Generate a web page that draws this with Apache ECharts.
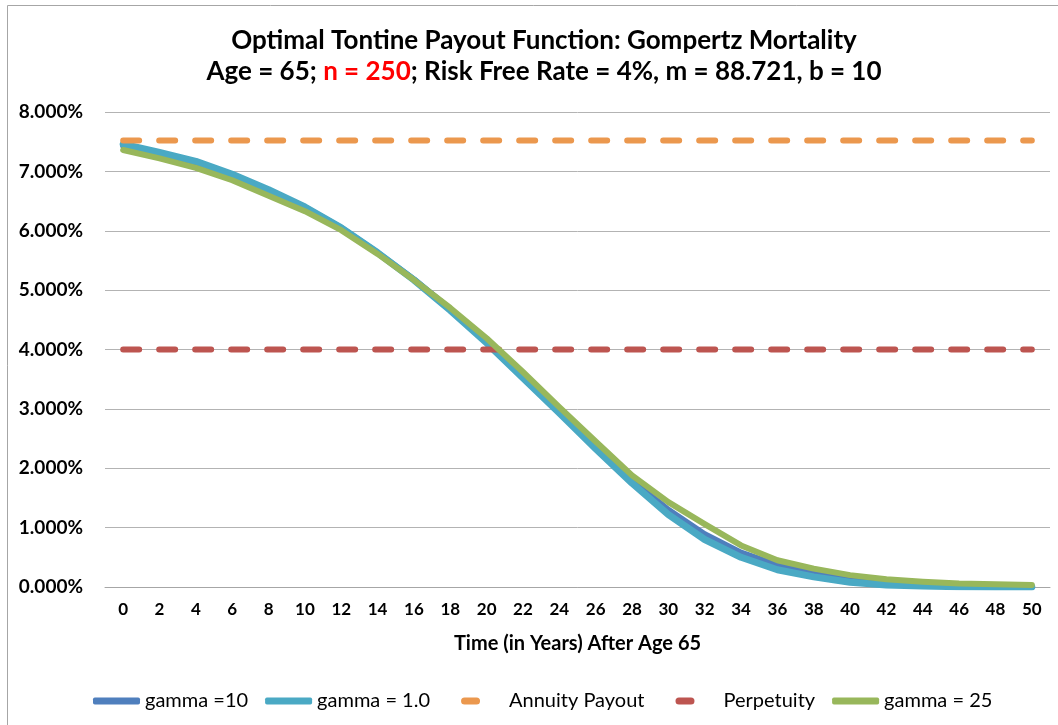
<!DOCTYPE html>
<html>
<head>
<meta charset="utf-8">
<script src="https://cdn.jsdelivr.net/npm/echarts@6/dist/echarts.min.js"></script>
<style>
html,body{margin:0;padding:0;background:#fff;}
#c{width:1058px;height:725px;}
</style>
</head>
<body>
<div id="c"></div>
<script>
// Data (percent values)
var years = [0,2,4,6,8,10,12,14,16,18,20,22,24,26,28,30,32,34,36,38,40,42,44,46,48,50];
var gamma10 = [7.43,7.30,7.15,6.94,6.68,6.40,6.05,5.63,5.18,4.68,4.13,3.55,2.96,2.37,1.80,1.30,0.89,0.58,0.37,0.23,0.13,0.07,0.04,0.02,0.01,0.005];
var gamma1  = [7.46,7.32,7.17,6.95,6.69,6.40,6.05,5.63,5.17,4.66,4.11,3.52,2.93,2.33,1.75,1.22,0.80,0.50,0.29,0.17,0.08,0.035,0.015,0.006,0.002,0.001];
var gamma25 = [7.36,7.22,7.06,6.85,6.59,6.33,6.01,5.61,5.17,4.70,4.19,3.62,3.03,2.45,1.88,1.43,1.06,0.70,0.45,0.31,0.20,0.13,0.09,0.06,0.045,0.035];
var annuityRate = 7.52;
var perpetuityRate = 4.0;
var xTickLabels = [0,2,4,6,8,10,12,14,16,18,20,22,24,26,28,30,32,34,36,38,40,42,44,46,48,50];
var seriesNames = ['gamma =10','gamma = 1.0','Annuity Payout','Perpetuity','gamma = 25'];

function pairs(vals){ return years.map(function(y,i){ return [y, vals[i]]; }); }
function constPairs(v){ return years.map(function(y){ return [y, v]; }); }

var FONT = 'Lato';
var dashIcon = 'path://M0,0L0,0ZM47,7L47,7ZM17.5,0H29.5A3.5,3.5,0,0,1,29.5,7H17.5A3.5,3.5,0,0,1,17.5,0Z';

var chart = echarts.init(document.getElementById('c'), null, {renderer:'canvas'});
chart.setOption({
  backgroundColor:'#ffffff',
  animation:false,
  title:{
    left:539, top:20, textAlign:'center',
    text:'{a|Optimal Tontine Payout Function: Gompertz Mortality}\n{a|Age = 65; }{r|n = 250}{a|; Risk Free Rate = 4%, m = 88.721, b = 10}',
    textStyle:{
      rich:{
        a:{fontFamily:FONT,fontWeight:'bold',fontSize:26,color:'#000',lineHeight:31},
        r:{fontFamily:FONT,fontWeight:'bold',fontSize:26,color:'#ff0000',lineHeight:31}
      }
    }
  },
  graphic:[{
    type:'rect', shape:{x:7.5,y:5.5,width:1100,height:800},
    style:{fill:'none',stroke:'#a6a6a6',lineWidth:1}, silent:true, z:-1
  }],
  grid:{left:105,right:8,top:112,bottom:138,containLabel:false},
  legend:{
    left:88, top:686, itemWidth:47, itemHeight:7, itemGap:17,
    textStyle:{fontFamily:FONT,fontSize:20,color:'#000'},
    data:[
      {name:seriesNames[0],icon:'roundRect'},
      {name:seriesNames[1],icon:'roundRect'},
      {name:seriesNames[2],icon:dashIcon,textStyle:{padding:[0,0,0,10]}},
      {name:seriesNames[3],icon:dashIcon,textStyle:{padding:[0,0,0,10]}},
      {name:seriesNames[4],icon:'roundRect'}
    ]
  },
  xAxis:{
    type:'value', min:-1, max:51, interval:1,
    name:'Time (in Years) After Age 65', nameLocation:'middle', nameGap:47,
    nameTextStyle:{fontFamily:FONT,fontWeight:'bold',fontSize:20,color:'#000'},
    axisLine:{show:true,lineStyle:{color:'#a6a6a6',width:1}},
    axisTick:{show:false},
    splitLine:{show:false},
    axisLabel:{
      fontFamily:FONT,fontWeight:'bold',fontSize:17,color:'#000',margin:14,
      showMinLabel:true, showMaxLabel:true, interval:0,
      formatter:function(v){ return xTickLabels.indexOf(v) >= 0 ? String(v) : ''; }
    }
  },
  yAxis:{
    type:'value', min:0, max:8, interval:1,
    axisLine:{show:false}, axisTick:{show:false},
    splitLine:{lineStyle:{color:'#b3b3b3',width:1}},
    axisLabel:{
      fontFamily:FONT,fontWeight:'bold',fontSize:19,color:'#000',margin:22,
      formatter:function(v){ return v.toFixed(3)+'%'; }
    }
  },
  series:[
    {name:seriesNames[0],type:'line',data:pairs(gamma10),showSymbol:false,symbol:'none',
     lineStyle:{color:'#4f7fbd',width:6,cap:'round',join:'round'},itemStyle:{color:'#4f7fbd'}},
    {name:seriesNames[1],type:'line',data:pairs(gamma1),showSymbol:false,symbol:'none',
     lineStyle:{color:'#4aa9c4',width:7,cap:'round',join:'round'},itemStyle:{color:'#4aa9c4'}},
    {name:seriesNames[2],type:'line',data:constPairs(annuityRate),showSymbol:false,symbol:'none',
     lineStyle:{color:'#eb984e',width:6,type:[16,20],cap:'round'},itemStyle:{color:'#eb984e'}},
    {name:seriesNames[3],type:'line',data:constPairs(perpetuityRate),showSymbol:false,symbol:'none',
     lineStyle:{color:'#bd5550',width:6,type:[16,20],cap:'round'},itemStyle:{color:'#bd5550'}},
    {name:seriesNames[4],type:'line',data:pairs(gamma25),showSymbol:false,symbol:'none',
     lineStyle:{color:'#98b75b',width:6,cap:'round',join:'round'},itemStyle:{color:'#98b75b'}}
  ]
});
</script>
</body>
</html>
